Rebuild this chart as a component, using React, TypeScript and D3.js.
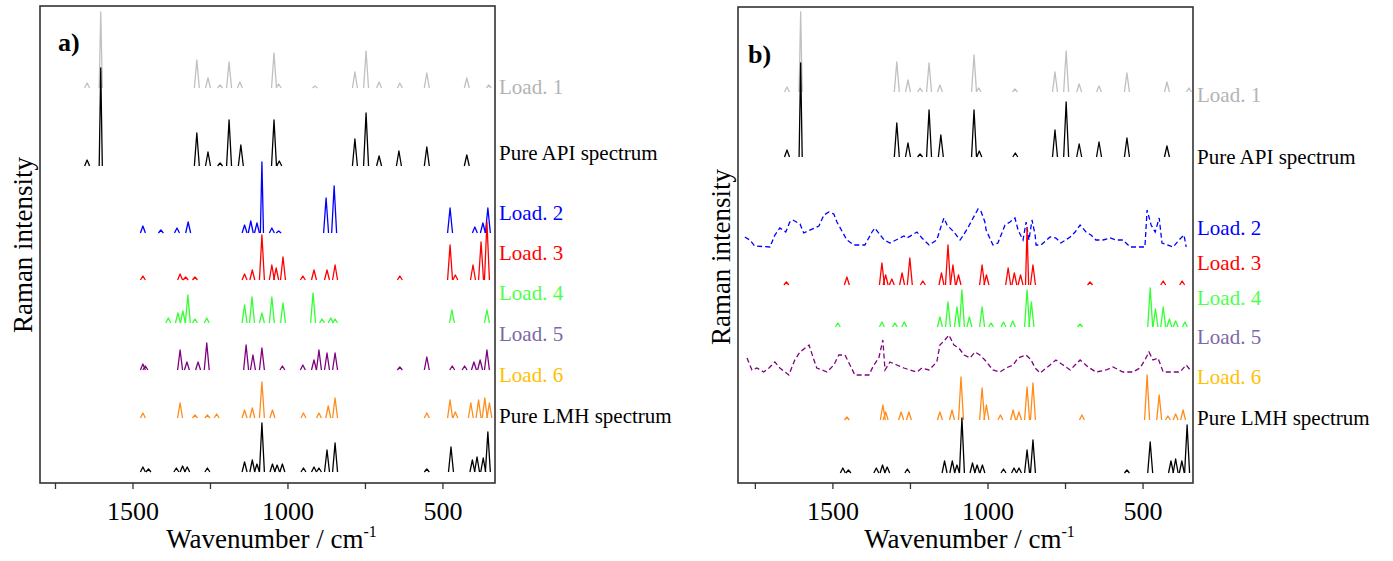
import React from 'react';
import * as d3 from 'd3';

// [wavenumber, height, halfWidth?] — peaks
const load1A = [[1648,5],[1604,76,5],[1294,28],[1258,10],[1219,3],[1190,26],[1155,6],[1045,35],[1030,4],[913,2],[784,16],[748,37],[706,6],[639,5],[552,15],[423,10],[352,3]];
const apiA = [[1648,6],[1604,98,5],[1294,33],[1258,14],[1219,3],[1190,46],[1152,21],[1045,46],[1028,5],[784,27],[748,53],[706,10],[642,15],[552,19],[423,11]];
const load2A = [[1468,7],[1410,3],[1358,5],[1322,11],[1140,8],[1120,12],[1100,10],[1084,71,5],[1052,5],[1030,2],[877,35],[851,47],[477,25],[397,6],[371,10],[355,25]];
const load3A = [[1468,4],[1348,6],[1330,3],[1300,3],[1140,6],[1115,10],[1084,45],[1052,15],[1038,12],[1016,23],[952,4],[916,10],[874,10],[848,15],[639,4],[477,35],[460,5],[403,15],[377,38],[358,58]];
const load4A = [[1386,5],[1355,10],[1339,12],[1323,28],[1300,4],[1262,5],[1140,18],[1116,26],[1084,10],[1052,26],[1016,20],[919,30],[890,4],[862,5],[848,4],[471,13],[358,13]];
const load5A = [[1468,6],[1460,4],[1348,20],[1326,8],[1290,8],[1262,27],[1135,25],[1113,15],[1084,22],[1018,4],[952,5],[916,10],[900,20],[874,17],[848,17],[639,3],[552,13],[470,4],[430,4],[400,8],[380,10],[358,20]];
const load6A = [[1468,5],[1348,15],[1300,3],[1260,3],[1230,4],[1140,8],[1115,10],[1084,36],[1050,8],[950,5],[900,5],[870,12],[848,20],[552,5],[477,18],[460,6],[410,15],[385,18],[365,20],[350,15]];
const lmhA = [[1468,5],[1450,3],[1360,4],[1340,6],[1325,5],[1260,4],[1140,10],[1115,12],[1100,8],[1084,49],[1050,8],[1035,7],[1018,8],[950,4],[916,5],[900,4],[874,22],[848,29],[552,3],[474,25],[405,12],[390,15],[370,14],[355,40]];

const load1B = [[1648,5],[1604,80,5],[1294,30],[1258,12],[1219,4],[1190,29],[1155,7],[1045,37],[1030,4],[913,3],[784,20],[748,41],[706,8],[642,6],[552,19],[423,10],[352,4]];
const apiB = [[1648,7],[1604,94,5],[1294,34],[1258,14],[1219,3],[1190,47],[1152,22],[1045,47],[1028,6],[912,4],[784,27],[748,55],[706,13],[642,15],[552,19],[423,11]];
const load3B = [[1650,3],[1455,8],[1342,22],[1330,10],[1310,6],[1277,12],[1252,27],[1210,4],[1150,12],[1129,40],[1113,20],[1095,10],[1019,20],[1005,10],[935,17],[915,12],[895,10],[874,57,5],[855,20],[671,3],[435,4],[374,4]];
const load4B = [[1484,4],[1342,5],[1300,4],[1270,5],[1155,10],[1129,25],[1100,20],[1084,37],[1060,10],[1019,20],[990,4],[950,5],[920,6],[874,37],[860,25],[703,3],[477,39],[460,18],[435,20],[415,8],[395,6],[365,5]];
const load6B = [[1455,3],[1339,15],[1330,8],[1280,8],[1255,8],[1155,8],[1116,10],[1087,43],[1019,32],[1005,15],[960,5],[919,10],[900,8],[874,33],[855,37],[697,5],[487,45],[448,25],[420,4],[395,6],[371,10]];
const lmhB = [[1468,5],[1450,3],[1360,5],[1340,8],[1325,6],[1260,4],[1140,12],[1115,12],[1100,8],[1084,55],[1050,10],[1035,8],[1018,8],[950,4],[916,5],[900,5],[874,23],[855,33],[552,3],[477,31],[410,12],[395,14],[375,12],[358,48]];

// noisy loadings in panel b, [wavenumber, intensity]
const load2B = [[1784,10],[1768,7],[1752,1],[1703,0],[1687,12],[1671,19],[1652,15],[1639,25],[1629,27],[1606,23],[1594,14],[1545,21],[1529,32],[1513,35],[1497,33],[1487,25],[1455,7],[1432,2],[1397,2],[1374,15],[1365,19],[1335,7],[1316,4],[1271,11],[1261,9],[1229,15],[1213,9],[1190,2],[1165,7],[1155,17],[1142,29],[1132,22],[1110,15],[1090,7],[1081,11],[1065,19],[1048,29],[1032,38],[1023,36],[1010,25],[1006,17],[984,2],[968,4],[945,22],[929,25],[913,29],[903,17],[887,7],[877,25],[868,7],[858,27],[848,12],[845,2],[829,2],[800,10],[781,9],[765,4],[735,10],[719,15],[703,22],[684,15],[668,12],[652,7],[629,7],[606,9],[587,7],[565,7],[542,0],[494,0],[487,37],[474,22],[461,15],[448,29],[439,4],[403,0],[384,7],[368,12],[361,0]];
const load5B = [[1777,19],[1761,7],[1745,9],[1723,5],[1706,9],[1687,15],[1671,9],[1642,2],[1623,17],[1606,25],[1577,32],[1561,17],[1552,9],[1535,7],[1519,5],[1497,12],[1481,22],[1461,22],[1445,12],[1429,2],[1384,2],[1368,12],[1352,19],[1339,37],[1332,7],[1316,15],[1294,12],[1271,9],[1252,7],[1229,5],[1213,9],[1190,7],[1165,15],[1155,32],[1139,37],[1126,42],[1110,32],[1094,29],[1077,22],[1058,19],[1042,25],[1026,22],[1010,17],[984,7],[961,5],[942,9],[919,12],[903,19],[877,22],[861,17],[848,9],[832,4],[800,12],[781,17],[758,12],[735,7],[703,17],[677,10],[652,5],[619,7],[597,10],[565,5],[532,5],[510,9],[494,17],[481,25],[468,17],[452,19],[435,5],[381,5],[361,12],[348,7]];

const labels = ['Load. 1', 'Pure API spectrum', 'Load. 2', 'Load. 3', 'Load. 4', 'Load. 5', 'Load. 6', 'Pure LMH spectrum'];
const offsetsA = [395, 317, 250, 203, 160, 113, 65, 11];
const offsetsB = [391, 326, 236, 198, 156, 106, 63, 10];
const majorTicks = [1500, 1000, 500];
const minorTicks = [1750, 1250, 750];

const traceColors = ['#c0c0c0', '#000000', '#0000ff', '#ff0000', '#33ff33', '#800080', '#ff8c1a', '#000000'];
const labelColors = ['#b3b3b3', '#000000', '#0000ff', '#ff0000', '#4dff4d', '#7b68a6', '#ffc000', '#000000'];
const font = '"Liberation Serif", "Times New Roman", serif';

const panels = [
  { tag: 'a)', tagX: 58, tagY: 51, left: 40, right: 495, top: 6, bottom: 483, domain: [1800, 332],
    traces: [load1A, apiA, load2A, load3A, load4A, load5A, load6A, lmhA], noisy: [], offsets: offsetsA,
    labelY: [87, 153, 213, 253, 293, 334, 375, 416], titleY: 245 },
  { tag: 'b)', tagX: 748, tagY: 63, left: 738, right: 1193, top: 7, bottom: 483, domain: [1806, 339],
    traces: [load1B, apiB, load2B, load3B, load4B, load5B, load6B, lmhB], noisy: [2, 5], offsets: offsetsB,
    labelY: [95, 157, 228, 263, 298, 337, 377, 418], titleY: 257 },
];

const Panel = ({ p }) => {
  const x = d3.scaleLinear().domain(p.domain).range([p.left, p.right]);
  const y = d3.scaleLinear().domain([0, p.bottom - p.top]).range([p.bottom, p.top]);

  return (
    <g>
      {p.traces.map((tr, i) => {
        const off = p.offsets[i];
        const line = d3.line().x(d => x(d[0])).y(d => y(d[1] + off));
        if (p.noisy.includes(i)) {
          return <path key={i} d={line(tr)} fill="none" stroke={traceColors[i]} strokeWidth={1.3} strokeDasharray="5 3" />;
        }
        return (
          <g key={i}>
            {tr.map((pk, j) => {
              const hw = pk[2] ?? 8;
              return <path key={j} d={line([[pk[0] + hw, 0], [pk[0], pk[1]], [pk[0] - hw, 0]])}
                fill="none" stroke={traceColors[i]} strokeWidth={1.3} strokeLinejoin="round" />;
            })}
          </g>
        );
      })}

      <rect x={p.left} y={p.top} width={p.right - p.left} height={p.bottom - p.top}
        fill="none" stroke="#333" strokeWidth={1.6} />

      {majorTicks.concat(minorTicks).map(t => (
        <line key={t} x1={x(t)} x2={x(t)} y1={p.bottom} y2={p.bottom + 6} stroke="#333" strokeWidth={1.3} />
      ))}
      {majorTicks.map(t => (
        <text key={t} x={x(t)} y={520} textAnchor="middle" fontSize={26} fontFamily={font}>{t}</text>
      ))}
      <text x={(p.left + p.right) / 2 + 4} y={548} textAnchor="middle" fontSize={27} fontFamily={font}>
        Wavenumber / cm<tspan fontSize={16} dy={-11}>-1</tspan>
      </text>
      <text transform={`translate(${p.left - 8},${p.titleY}) rotate(-90)`} textAnchor="middle"
        fontSize={27} fontFamily={font}>Raman intensity</text>
      <text x={p.tagX} y={p.tagY} fontSize={26} fontWeight="bold" fontFamily={font}>{p.tag}</text>

      {labels.map((l, i) => (
        <text key={l} x={p.right + 4} y={p.labelY[i]} dy="0.35em" fontSize={21} fill={labelColors[i]} fontFamily={font}>{l}</text>
      ))}
    </g>
  );
};

const App = () => (
  <svg width={1393} height={561} style={{ position: 'absolute', left: 0, top: 0, background: '#fff' }}>
    {panels.map(p => <Panel key={p.tag} p={p} />)}
  </svg>
);

export default App;
